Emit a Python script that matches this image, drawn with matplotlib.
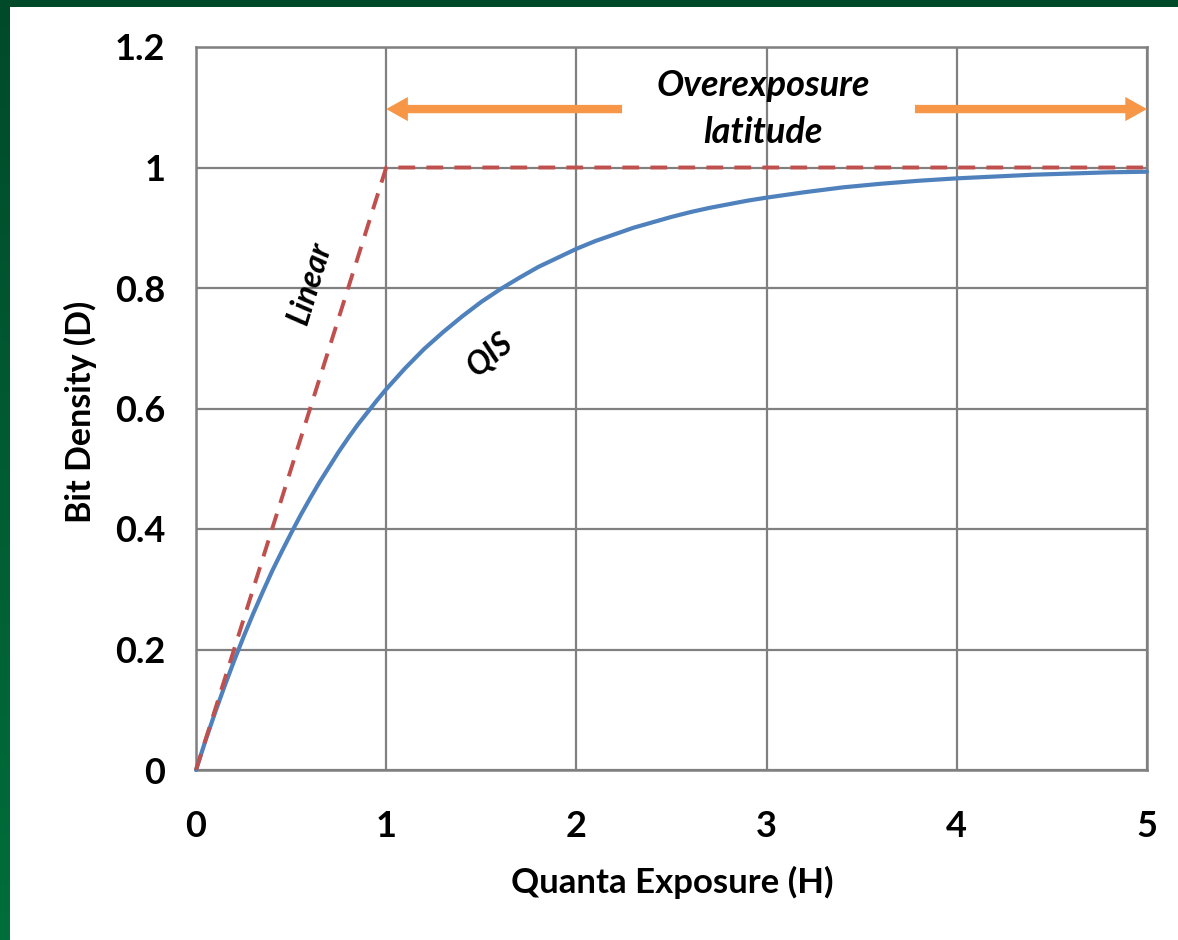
import numpy as np
import matplotlib
matplotlib.use("Agg")
import matplotlib.pyplot as plt
from matplotlib.patches import FancyArrowPatch
from matplotlib.colors import LinearSegmentedColormap

plt.rcParams['font.family'] = ['Lato', 'DejaVu Sans']

# QIS bit density response vs. quanta exposure
qis_h = [0.0, 0.05, 0.1, 0.15, 0.2, 0.25, 0.3, 0.35, 0.4, 0.45, 0.5, 0.55, 0.6,
         0.65, 0.7, 0.75, 0.8, 0.85, 0.9, 0.95, 1.0, 1.1, 1.2, 1.3, 1.4, 1.5,
         1.6, 1.7, 1.8, 1.9, 2.0, 2.1, 2.2, 2.3, 2.4, 2.5, 2.6, 2.7, 2.8, 2.9,
         3.0, 3.2, 3.4, 3.6, 3.8, 4.0, 4.2, 4.4, 4.6, 4.8, 5.0]
qis_d = [0.0, 0.049, 0.095, 0.139, 0.181, 0.221, 0.259, 0.295, 0.330, 0.362,
         0.393, 0.423, 0.451, 0.478, 0.503, 0.528, 0.551, 0.573, 0.593, 0.613,
         0.632, 0.667, 0.699, 0.727, 0.753, 0.777, 0.798, 0.817, 0.835, 0.850,
         0.865, 0.878, 0.889, 0.900, 0.909, 0.918, 0.926, 0.933, 0.939, 0.945,
         0.950, 0.959, 0.967, 0.973, 0.978, 0.982, 0.985, 0.988, 0.990, 0.992,
         0.993]

# Conventional linear sensor: saturates at H = 1
lin_h = [0.0, 1.0, 5.0]
lin_d = [0.0, 1.0, 1.0]

x_ticks = [0, 1, 2, 3, 4, 5]
y_ticks = [0, 0.2, 0.4, 0.6, 0.8, 1.0, 1.2]
y_labels = ['0', '0.2', '0.4', '0.6', '0.8', '1', '1.2']

W, H = 1178, 940
fig = plt.figure(figsize=(W / 100, H / 100), dpi=100)
fig.patch.set_facecolor('white')

# green slide frame: top band and left band with vertical gradient
top = fig.add_axes([0, 1 - 7 / H, 1, 7 / H])
top.set_axis_off()
top.add_patch(plt.Rectangle((0, 0), 1, 1, color='#004a2a', transform=top.transAxes))
left = fig.add_axes([0, 0, 10 / W, 1])
left.set_axis_off()
grad = np.linspace(0, 1, 256)[:, None]
cm = LinearSegmentedColormap.from_list('frame', ['#004a2a', '#006e3b'])
left.imshow(grad, aspect='auto', cmap=cm, extent=[0, 1, 0, 1], origin='upper')
left.set_xlim(0, 1)
left.set_ylim(0, 1)

ax = fig.add_axes([196 / W, 1 - 770 / H, (1147 - 196) / W, (770 - 47) / H])
ax.set_xlim(0, 5)
ax.set_ylim(0, 1.2)
ax.set_xticks(x_ticks)
ax.set_yticks(y_ticks)
ax.set_yticklabels(y_labels)
ax.grid(True, color='#808080', linewidth=1.6)
ax.set_axisbelow(True)
for s in ax.spines.values():
    s.set_color('#808080')
    s.set_linewidth(1.8)
ax.tick_params(length=0, labelsize=26)
ax.tick_params(axis='y', pad=22)
ax.tick_params(axis='x', pad=29)
for lab in ax.get_xticklabels() + ax.get_yticklabels():
    lab.set_fontweight('bold')

ax.plot(qis_h, qis_d, color='#4f81bd', linewidth=3.0, solid_capstyle='round',
        solid_joinstyle='round', clip_on=False, zorder=3)
ax.plot(lin_h, lin_d, color='#c0504d', linewidth=2.8, linestyle=(0, (4.3, 2.9)),
        dash_joinstyle='round', clip_on=False, zorder=4)

fig.text(672 / W, 1 - 882 / H, 'Quanta Exposure (H)', ha='center', va='center',
         fontsize=25, fontweight='bold')
fig.text(80 / W, 1 - 412 / H, 'Bit Density (D)', ha='center', va='center',
         rotation=90, fontsize=24.5, fontweight='bold')

arrow_kw = dict(arrowstyle='simple,head_length=1.3,head_width=1.45,tail_width=0.5',
                color='#f79646', linewidth=0, shrinkA=0, shrinkB=0,
                mutation_scale=12, zorder=5, clip_on=False)
ax.add_patch(FancyArrowPatch((2.24, 1.097), (1.0, 1.097), **arrow_kw))
ax.add_patch(FancyArrowPatch((3.78, 1.097), (5.0, 1.097), **arrow_kw))

ax.text(2.98, 1.097, 'Overexposure\nlatitude', ha='center', va='center',
        fontsize=26, fontweight='bold', fontstyle='italic', linespacing=1.5)
ax.text(0.6, 0.808, 'Linear', ha='center', va='center', rotation=73,
        fontsize=23, fontweight='bold', fontstyle='italic')
ax.text(1.546, 0.69, 'QIS', ha='center', va='center', rotation=40,
        fontsize=23, fontweight='bold', fontstyle='italic')

fig.savefig('out.png', dpi=100)
